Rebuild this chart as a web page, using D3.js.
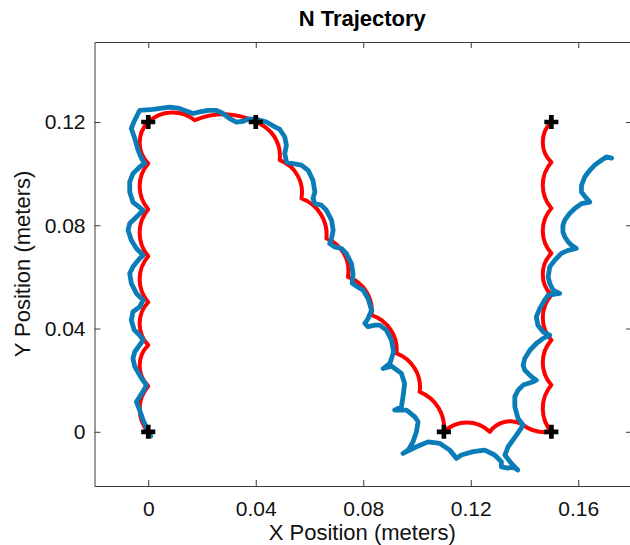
<!DOCTYPE html>
<html>
<head>
<meta charset="utf-8">
<script src="https://cdn.jsdelivr.net/npm/d3@7"></script>
<style>
  body { margin: 0; background: #fff; }
  svg { display: block; font-family: "Liberation Sans", Arial, Helvetica, sans-serif; }
</style>
</head>
<body>
<div id="chart--wrapper"></div>
<script>
// reference path: cusp points of the scalloped red line (meters)
const refX = [0, 0, 0, 0, 0, 0, 0, 0,
  0.0173, 0.04,
  0.0489, 0.0570, 0.0663, 0.0743, 0.0831, 0.0924, 0.1010, 0.11,
  0.1271, 0.1390, 0.15,
  0.15, 0.15, 0.15, 0.15, 0.15, 0.15, 0.15];
const refY = [0, 0.0177, 0.0336, 0.0502, 0.0680, 0.0862, 0.1040, 0.12,
  0.1207, 0.12,
  0.1052, 0.0904, 0.0749, 0.0600, 0.0452, 0.0304, 0.0155, 0,
  0, 0.0030, 0,
  0.0181, 0.0355, 0.0529, 0.0691, 0.0866, 0.1044, 0.12];
// apex of each arc between two cusps
const apexX = [-0.0032, -0.0032, -0.0032, -0.0032, -0.0032, -0.0032, -0.0032,
  0.0087, 0.0273,
  0.0470, 0.0555, 0.0642, 0.0728, 0.0812, 0.0903, 0.0992, 0.1080,
  0.1181, 0.1330, 0.1440,
  0.1468, 0.1468, 0.1468, 0.1468, 0.1468, 0.1468, 0.1468];
const apexY = [0.0088, 0.0256, 0.0419, 0.0591, 0.0771, 0.0951, 0.1120,
  0.1237, 0.1230,
  0.1142, 0.0994, 0.0843, 0.0690, 0.0542, 0.0394, 0.0245, 0.0093,
  0.0036, 0.0039, 0.0004,
  0.0090, 0.0268, 0.0442, 0.0610, 0.0778, 0.0955, 0.1122];

// corner waypoints of the N
const cornerX = [0, 0, 0.04, 0.11, 0.15, 0.15];
const cornerY = [0, 0.12, 0.12, 0, 0, 0.12];

// measured trajectory (meters)
const measX = [0.0009, -0.0007, -0.0019, -0.0032, -0.0044, -0.0032, -0.0013, -0.0007, -0.0025, -0.0050,
  -0.0057, -0.0050, -0.0032, -0.0019, -0.0032, -0.0052, -0.0063, -0.0057, -0.0032, -0.0019,
  -0.0044, -0.0063, -0.0069, -0.0057, -0.0032, -0.0019, -0.0044, -0.0063, -0.0075, -0.0069,
  -0.0044, -0.0019, -0.0038, -0.0057, -0.0069, -0.0069, -0.0057, -0.0032, -0.0013, -0.0025,
  -0.0038, -0.0050, -0.0063, -0.0054, -0.0032,
  0.0018, 0.0080, 0.0111, 0.0136, 0.0167, 0.0192, 0.0223, 0.0254, 0.0278, 0.0303,
  0.0328, 0.0353, 0.0371, 0.0403, 0.0440, 0.0471, 0.0489, 0.0508, 0.0514, 0.0508,
  0.0514, 0.0539, 0.0570, 0.0595, 0.0613, 0.0620, 0.0613, 0.0620, 0.0644, 0.0663,
  0.0682, 0.0688, 0.0682, 0.0675, 0.0694, 0.0719, 0.0737, 0.0756, 0.0762, 0.0759,
  0.0781, 0.0799, 0.0818, 0.0831, 0.0818, 0.0806, 0.0818, 0.0843, 0.0861, 0.0886,
  0.0905, 0.0913, 0.0899, 0.0874, 0.0906, 0.0942, 0.0954, 0.0948, 0.0942, 0.0917,
  0.0961, 0.0992, 0.1004, 0.0998, 0.0985, 0.0967, 0.0948, 0.0998, 0.1041, 0.1085,
  0.1122, 0.1147, 0.1165, 0.1209, 0.1252, 0.1289, 0.1314, 0.1314, 0.1338, 0.1357,
  0.1375, 0.1353, 0.1327, 0.1339, 0.1370, 0.1395, 0.1376, 0.1364, 0.1364, 0.1376,
  0.1395, 0.1432, 0.1444, 0.1426, 0.1401, 0.1395, 0.1401, 0.1420, 0.1444, 0.1469,
  0.1494, 0.1469, 0.1450, 0.1444, 0.1457, 0.1475, 0.1488, 0.1531, 0.1506, 0.1494,
  0.1488, 0.1494, 0.1513, 0.1537, 0.1562, 0.1593, 0.1575, 0.1562, 0.1550, 0.1543,
  0.1543, 0.1550, 0.1568, 0.1587, 0.1612, 0.1643, 0.1631, 0.1612, 0.1612, 0.1624,
  0.1643, 0.1661, 0.1686, 0.1705, 0.1724];
const measY = [-0.0017, 0.0019, 0.0045, 0.0084, 0.0116, 0.0136, 0.0168, 0.0181, 0.0207, 0.0252,
  0.0284, 0.0310, 0.0336, 0.0355, 0.0374, 0.0394, 0.0432, 0.0465, 0.0484, 0.0510,
  0.0536, 0.0575, 0.0613, 0.0639, 0.0671, 0.0684, 0.0710, 0.0742, 0.0781, 0.0807,
  0.0832, 0.0858, 0.0874, 0.0890, 0.0929, 0.0968, 0.1000, 0.1026, 0.1040, 0.1058,
  0.1091, 0.1136, 0.1175, 0.1199, 0.1245,
  0.1249, 0.1258, 0.1254, 0.1245, 0.1233, 0.1239, 0.1245, 0.1245, 0.1233, 0.1213,
  0.1200, 0.1203, 0.1211, 0.1211, 0.1200, 0.1181, 0.1172, 0.1142, 0.1110, 0.1078,
  0.1045, 0.1039, 0.1033, 0.1013, 0.0974, 0.0929, 0.0904, 0.0884, 0.0878, 0.0858,
  0.0820, 0.0781, 0.0749, 0.0729, 0.0716, 0.0710, 0.0691, 0.0652, 0.0613, 0.0575,
  0.0560, 0.0549, 0.0516, 0.0471, 0.0439, 0.0420, 0.0407, 0.0413, 0.0413, 0.0394,
  0.0355, 0.0309, 0.0265, 0.0245, 0.0254, 0.0226, 0.0187, 0.0136, 0.0097, 0.0084,
  0.0084, 0.0058, 0.0039, 0, -0.0039, -0.0071, -0.0084, -0.0058, -0.0039, -0.0045,
  -0.0071, -0.0103, -0.0090, -0.0077, -0.0071, -0.0090, -0.0116, -0.0136, -0.0141, -0.0136,
  -0.0148, -0.0125, -0.0090, -0.0058, -0.0013, 0.0026, 0.0052, 0.0097, 0.0136, 0.0161,
  0.0181, 0.0194, 0.0200, 0.0213, 0.0239, 0.0258, 0.0284, 0.0316, 0.0342, 0.0362,
  0.0374, 0.0387, 0.0413, 0.0445, 0.0478, 0.0510, 0.0529, 0.0536, 0.0549, 0.0575,
  0.0600, 0.0639, 0.0665, 0.0691, 0.0703, 0.0710, 0.0723, 0.0736, 0.0755, 0.0774,
  0.0800, 0.0820, 0.0846, 0.0865, 0.0884, 0.0890, 0.0904, 0.0929, 0.0955, 0.0987,
  0.1013, 0.1033, 0.1052, 0.1065, 0.1060];

const xTicks = [0, 0.04, 0.08, 0.12, 0.16];
const yTicks = [0, 0.04, 0.08, 0.12];

const chartTitle = "N Trajectory";
const xLabel = "X Position (meters)";
const yLabel = "Y Position (meters)";

function draw() {
    const width = 630, height = 545;
    const left = 94.5, right = 632, top = 42, bottom = 486;

    const svg = d3.select("#chart--wrapper").append("svg")
        .attr("width", width)
        .attr("height", height);

    const xScale = d3.scaleLinear().domain([-0.02, 0.18]).range([left, right]);
    const yScale = d3.scaleLinear().domain([-0.021, 0.151]).range([bottom, top]);

    svg.append("clipPath").attr("id", "plot-clip")
        .append("rect")
        .attr("x", left).attr("y", top)
        .attr("width", right - left).attr("height", bottom - top);

    const fmt = d => d === 0 ? "0" : d3.format(".2f")(d);

    // axes (ticks pointing inward, box on all sides)
    const xAxis = svg.append("g")
        .attr("transform", `translate(0,${bottom})`)
        .call(d3.axisBottom(xScale).tickValues(xTicks).tickFormat(fmt)
            .tickSizeInner(-6).tickSizeOuter(0).tickPadding(15));
    const yAxis = svg.append("g")
        .attr("transform", `translate(${left},0)`)
        .call(d3.axisLeft(yScale).tickValues(yTicks).tickFormat(fmt)
            .tickSizeInner(-6).tickSizeOuter(0).tickPadding(9));
    const topAxis = svg.append("g")
        .attr("transform", `translate(0,${top})`)
        .call(d3.axisTop(xScale).tickValues(xTicks).tickFormat("")
            .tickSizeInner(-6).tickSizeOuter(0));
    const rightAxis = svg.append("g")
        .attr("transform", `translate(${right},0)`)
        .call(d3.axisRight(yScale).tickValues(yTicks).tickFormat("")
            .tickSizeInner(-6).tickSizeOuter(0));

    [xAxis, yAxis, topAxis, rightAxis].forEach(g => {
        g.select(".domain").attr("stroke", "#3a3a3a").attr("stroke-width", 1);
        g.selectAll(".tick line").attr("stroke", "#3a3a3a").attr("stroke-width", 1);
        g.selectAll(".tick text")
            .attr("fill", "#111")
            .attr("font-size", 21)
            .attr("font-family", "'Liberation Sans', Arial, Helvetica, sans-serif");
    });

    const plot = svg.append("g").attr("clip-path", "url(#plot-clip)");

    // red reference: one circular arc through start, apex and end for each step
    let d = "";
    for (let i = 0; i < apexX.length; i++) {
        const sx = xScale(refX[i]), sy = yScale(refY[i]);
        const ex = xScale(refX[i + 1]), ey = yScale(refY[i + 1]);
        const mx = xScale(apexX[i]), my = yScale(apexY[i]);
        const a = Math.hypot(ex - sx, ey - sy);
        const b = Math.hypot(mx - sx, my - sy);
        const c = Math.hypot(ex - mx, ey - my);
        const cross = (ex - sx) * (my - sy) - (ey - sy) * (mx - sx);
        const r = (a * b * c) / (2 * Math.abs(cross));
        const sweep = cross < 0 ? 1 : 0;
        if (i === 0) d += `M${sx},${sy}`;
        d += `A${r},${r} 0 0 ${sweep} ${ex},${ey}`;
    }
    plot.append("path")
        .attr("d", d)
        .attr("fill", "none")
        .attr("stroke", "#ff0000")
        .attr("stroke-width", 4)
        .attr("stroke-linejoin", "round");

    // blue measured path
    const meas = measX.map((v, i) => ({ x: v, y: measY[i] }));
    const line = d3.line()
        .x(p => xScale(p.x))
        .y(p => yScale(p.y));
    plot.append("path")
        .datum(meas)
        .attr("d", line)
        .attr("fill", "none")
        .attr("stroke", "#0a7db8")
        .attr("stroke-width", 4.8)
        .attr("stroke-linejoin", "round")
        .attr("stroke-linecap", "round");

    // black plus markers at the corners
    const cross = d3.symbol().type(d3.symbolCross).size(110);
    plot.selectAll(".corner")
        .data(cornerX.map((v, i) => ({ x: v, y: cornerY[i] })))
        .join("path")
        .attr("class", "corner")
        .attr("transform", p => `translate(${xScale(p.x)},${yScale(p.y)})`)
        .attr("d", cross)
        .attr("fill", "#000");

    // title and labels
    svg.append("text")
        .attr("x", (left + right) / 2 - 1)
        .attr("y", 26)
        .attr("text-anchor", "middle")
        .attr("font-size", 22)
        .attr("font-weight", "bold")
        .attr("fill", "#000")
        .text(chartTitle);
    svg.append("text")
        .attr("x", (left + right) / 2 - 1)
        .attr("y", 540)
        .attr("text-anchor", "middle")
        .attr("font-size", 22)
        .attr("fill", "#111")
        .text(xLabel);
    svg.append("text")
        .attr("transform", `translate(30,${(top + bottom) / 2}) rotate(-90)`)
        .attr("text-anchor", "middle")
        .attr("font-size", 22)
        .attr("fill", "#111")
        .text(yLabel);
}
draw();
</script>
</body>
</html>
